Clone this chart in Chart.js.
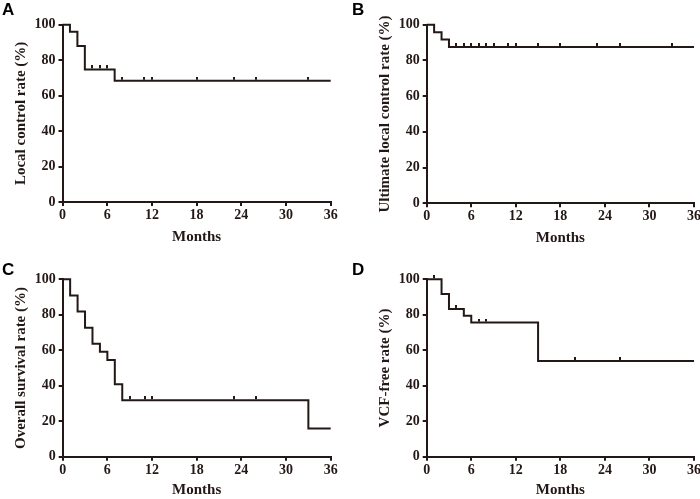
<!DOCTYPE html>
<html>
<head>
<meta charset="utf-8">
<script src="https://cdn.jsdelivr.net/npm/chart.js@4"></script>
<style>
  html, body { margin: 0; padding: 0; background: #fff; }
  #wrap { position: relative; width: 700px; height: 499px; overflow: hidden; }
  canvas { position: absolute; }
  .tag { position: absolute; font: bold 17px 'Liberation Sans', Arial, sans-serif; line-height: 17px; color: #000; }
</style>
</head>
<body>
<div id="wrap">
  <canvas id="chartA" width="350" height="250" style="left:0;top:0"></canvas>
  <canvas id="chartB" width="350" height="250" style="left:350px;top:0"></canvas>
  <canvas id="chartC" width="350" height="249" style="left:0;top:250px"></canvas>
  <canvas id="chartD" width="350" height="249" style="left:350px;top:250px"></canvas>
  <div class="tag" style="left:2px;top:1px">A</div>
  <div class="tag" style="left:352px;top:1px">B</div>
  <div class="tag" style="left:2px;top:261px">C</div>
  <div class="tag" style="left:352px;top:261px">D</div>
</div>
<script>
// ticks
const xTickValues = [0, 6, 12, 18, 24, 30, 36];
const yTickValues = [0, 20, 40, 60, 80, 100];

// A - local control
const aTimes = [0, 1, 2, 3, 7, 36];
const aRates = [100, 96, 88, 74.8, 68.4, 68.4];
const aCensor = [4, 5, 6, 8, 11, 12, 18, 23, 26, 33];

// B - ultimate local control
const bTimes = [0, 1, 2, 3, 36];
const bRates = [100, 95.8, 91.7, 87.5, 87.5];
const bCensor = [4, 5, 6, 7, 8, 9, 11, 12, 15, 18, 23, 26, 33];

// C - overall survival
const cTimes = [0, 1, 2, 3, 4, 5, 6, 7, 8, 33, 36];
const cRates = [100, 90.9, 81.8, 72.7, 63.6, 59.1, 54.5, 40.9, 31.8, 15.9, 15.9];
const cCensor = [9, 11, 12, 23, 26];

// D - VCF-free
const dTimes = [0, 2, 3, 5, 6, 15, 36];
const dRates = [100, 91.7, 83.3, 79.5, 75.6, 53.9, 53.9];
const dCensor = [1, 4, 7, 8, 20, 26];

const INK = '#231815';
Chart.defaults.font.family = "'Liberation Serif', 'Times New Roman', serif";
Chart.defaults.font.weight = 'bold';
Chart.defaults.color = INK;

// marca de censura: traço vertical só acima da curva
const censorMark = document.createElement('canvas');
censorMark.width = 2;
censorMark.height = 8;
(function () {
    const c = censorMark.getContext('2d');
    c.fillStyle = INK;
    c.fillRect(0, 0, 2, 3);
})();

// valor da curva (degrau) no tempo t
function rateAt(times, rates, t) {
    let r = rates[0];
    for (let i = 0; i < times.length; i++) {
        if (times[i] <= t) r = rates[i];
    }
    return r;
}

function makePanel(p) {
    const curve = p.times.map((t, i) => ({ x: t, y: p.rates[i] }));
    const marks = p.censor.map(t => ({ x: t, y: rateAt(p.times, p.rates, t) }));
    const H = document.getElementById(p.id).height;

    new Chart(document.getElementById(p.id), {
        type: 'line',
        data: {
            datasets: [
                {
                    data: curve,
                    borderColor: INK,
                    borderWidth: 2,
                    stepped: 'before',
                    pointRadius: 0,
                    fill: false,
                    clip: false
                },
                {
                    data: marks,
                    showLine: false,
                    pointStyle: censorMark,
                    pointRadius: 4,
                    clip: false
                }
            ]
        },
        options: {
            responsive: false,
            animation: false,
            events: [],
            layout: { padding: { top: p.top, right: p.right, left: 0, bottom: 0 } },
            plugins: { legend: { display: false }, tooltip: { enabled: false } },
            scales: {
                x: {
                    type: 'linear',
                    min: 0,
                    max: 36,
                    afterBuildTicks: s => { s.ticks = xTickValues.map(v => ({ value: v })); },
                    afterFit: s => { s.height = H - p.bottom; s.paddingLeft = 0; s.paddingRight = 0; },
                    ticks: { font: { size: 14, weight: 'bold' }, padding: 1, maxRotation: 0, color: INK },
                    grid: { drawOnChartArea: false, drawTicks: true, tickLength: 4, lineWidth: 2, color: INK },
                    border: { display: true, width: 2, color: INK },
                    title: {
                        display: true,
                        text: 'Months',
                        font: { size: 15, weight: 'bold' },
                        color: INK,
                        padding: { top: 0, bottom: p.xTitlePad }
                    }
                },
                y: {
                    min: 0,
                    max: 100,
                    afterBuildTicks: s => { s.ticks = yTickValues.map(v => ({ value: v })); },
                    afterFit: s => { s.width = p.left; s.paddingTop = 0; s.paddingBottom = 0; },
                    ticks: { font: { size: 14, weight: 'bold' }, padding: 3, color: INK },
                    grid: { drawOnChartArea: false, drawTicks: true, tickLength: 4, lineWidth: 2, color: INK },
                    border: { display: true, width: 2, color: INK },
                    title: {
                        display: true,
                        text: p.yTitle,
                        font: { size: 15, weight: 'bold' },
                        color: INK,
                        padding: { top: p.yTitlePad, bottom: 0 }
                    }
                }
            }
        }
    });
}

makePanel({ id: 'chartA', yTitle: 'Local control rate (%)', times: aTimes, rates: aRates, censor: aCensor,
    left: 62.5, right: 19.3, top: 24.7, bottom: 202, yTitlePad: 12, xTitlePad: 4.3 });
makePanel({ id: 'chartB', yTitle: 'Ultimate local control rate (%)', times: bTimes, rates: bRates, censor: bCensor,
    left: 76.7, right: 6, top: 24.7, bottom: 203.3, yTitlePad: 26, xTitlePad: 2.7 });
makePanel({ id: 'chartC', yTitle: 'Overall survival rate (%)', times: cTimes, rates: cRates, censor: cCensor,
    left: 62.7, right: 19.3, top: 29.3, bottom: 206.7, yTitlePad: 12, xTitlePad: 0 });
makePanel({ id: 'chartD', yTitle: 'VCF-free rate (%)', times: dTimes, rates: dRates, censor: dCensor,
    left: 76.7, right: 6, top: 29.3, bottom: 206.7, yTitlePad: 26, xTitlePad: 0 });
</script>
</body>
</html>
